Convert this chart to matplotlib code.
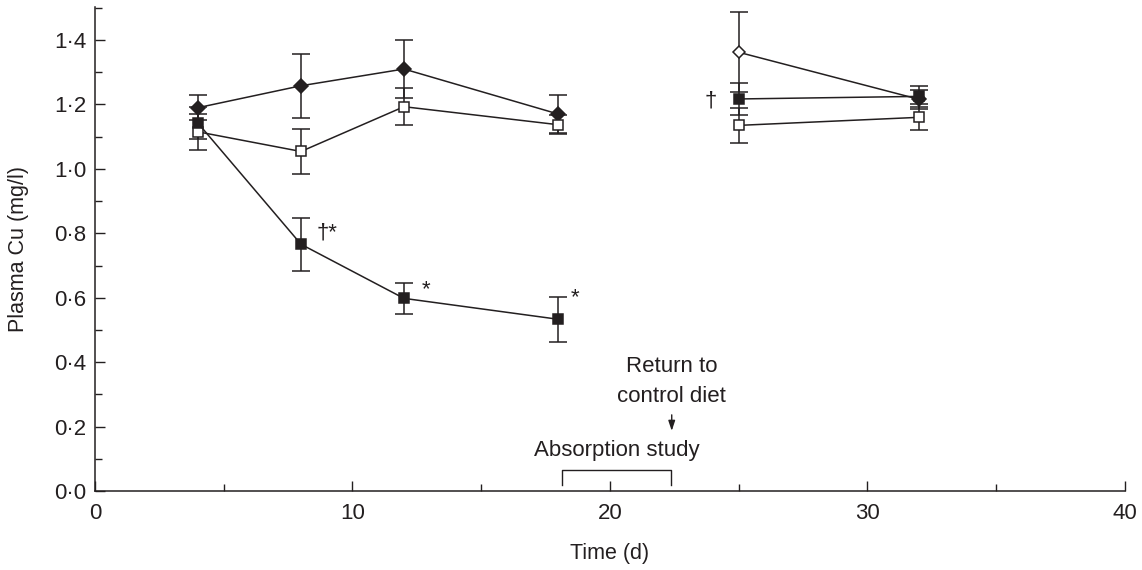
import numpy as np
import matplotlib
matplotlib.use('Agg')
import matplotlib.pyplot as plt
from matplotlib.ticker import MultipleLocator, FuncFormatter

plt.rcParams['font.family'] = ['Liberation Sans', 'DejaVu Sans']

INK = '#231f20'

# Diet phase (days 4-18)
days_a = [4, 8, 12, 18]
diamond_a = [1.19, 1.258, 1.31, 1.17]
diamond_a_err = [0.038, 0.10, 0.09, 0.058]
open_sq_a = [1.115, 1.054, 1.193, 1.137]
open_sq_a_err = [0.055, 0.07, 0.058, 0.03]
filled_sq_a = [1.142, 0.766, 0.598, 0.533]
filled_sq_a_err = [0.05, 0.083, 0.047, 0.07]

# Recovery phase (days 25-32)
days_b = [25, 32]
diamond_b = [1.362, 1.216]
diamond_b_err = [0.124, 0.03]
open_sq_b = [1.135, 1.16]
open_sq_b_err = [0.055, 0.04]
filled_sq_b = [1.217, 1.225]
filled_sq_b_err = [0.05, 0.033]

# significance marks: (day, value, text)
marks = [(9.0, 0.80, '†*'), (12.85, 0.625, '*'), (18.65, 0.60, '*'), (23.9, 1.21, '†')]

FS = 16


def series(ax, x, y, err, marker, filled, ms=7.5):
    ax.errorbar(x, y, yerr=err, color=INK, lw=1.1, elinewidth=1.1,
                capsize=6.5, capthick=1.1, marker=marker, ms=ms,
                mfc=INK if filled else 'white', mec=INK, mew=1.1, zorder=3)


fig = plt.figure(figsize=(11.42, 5.7), dpi=100)
ax = fig.add_axes([0.0832, 0.1386, 0.9018, 0.8494])

series(ax, days_a, diamond_a, diamond_a_err, 'D', True, ms=7)
series(ax, days_a, open_sq_a, open_sq_a_err, 's', False)
series(ax, days_a, filled_sq_a, filled_sq_a_err, 's', True)

# day 25 diamond is open, day 32 filled
ax.plot(days_b, diamond_b, color=INK, lw=1.1, zorder=2)
ax.errorbar(days_b, diamond_b, yerr=diamond_b_err, fmt='none', ecolor=INK,
            elinewidth=1.1, capsize=6.5, capthick=1.1)
ax.plot(days_b[0], diamond_b[0], 'D', ms=6.5, mfc='white', mec=INK, mew=1.1, zorder=4)
ax.plot(days_b[1], diamond_b[1], 'D', ms=7, mfc=INK, mec=INK, mew=1.1, zorder=4)
series(ax, days_b, open_sq_b, open_sq_b_err, 's', False)
series(ax, days_b, filled_sq_b, filled_sq_b_err, 's', True)

for x, y, s in marks:
    ax.text(x, y, s, fontsize=FS, color=INK, ha='center', va='center')

# annotations
ax.text(22.4, 0.34, 'Return to\ncontrol diet', fontsize=FS, color=INK,
        ha='center', va='center', linespacing=1.55)
ax.annotate('', xy=(22.4, 0.178), xytext=(22.4, 0.245),
            arrowprops=dict(arrowstyle='-|>,head_length=0.6,head_width=0.2',
                            color=INK, lw=1))
ax.text(20.25, 0.127, 'Absorption study', fontsize=FS, color=INK,
        ha='center', va='center')
ax.plot([18.15, 18.15, 22.37, 22.37], [0.018, 0.065, 0.065, 0.018], color=INK, lw=1)

ax.set_xlim(0, 40)
ax.set_ylim(0, 1.503)
for s in ['top', 'right']:
    ax.spines[s].set_visible(False)
for s in ['left', 'bottom']:
    ax.spines[s].set_color(INK)
    ax.spines[s].set_linewidth(1.1)

ax.xaxis.set_major_locator(MultipleLocator(10))
ax.xaxis.set_minor_locator(MultipleLocator(5))
ax.yaxis.set_major_locator(MultipleLocator(0.2))
ax.yaxis.set_minor_locator(MultipleLocator(0.1))
ax.yaxis.set_major_formatter(FuncFormatter(lambda v, p: f'{v:.1f}'.replace('.', '·')))
ax.tick_params(which='both', direction='in', color=INK, labelsize=FS, labelcolor=INK, width=1)
ax.tick_params(which='major', length=7)
ax.tick_params(which='minor', length=5)
ax.tick_params(axis='x', pad=9)
ax.tick_params(axis='y', pad=6)

ax.set_xlabel('Time (d)', fontsize=FS - 0.5, color=INK, labelpad=13)
ax.set_ylabel('Plasma Cu (mg/l)', fontsize=FS - 0.5, color=INK, labelpad=18)

fig.savefig('out.png', dpi=100)
